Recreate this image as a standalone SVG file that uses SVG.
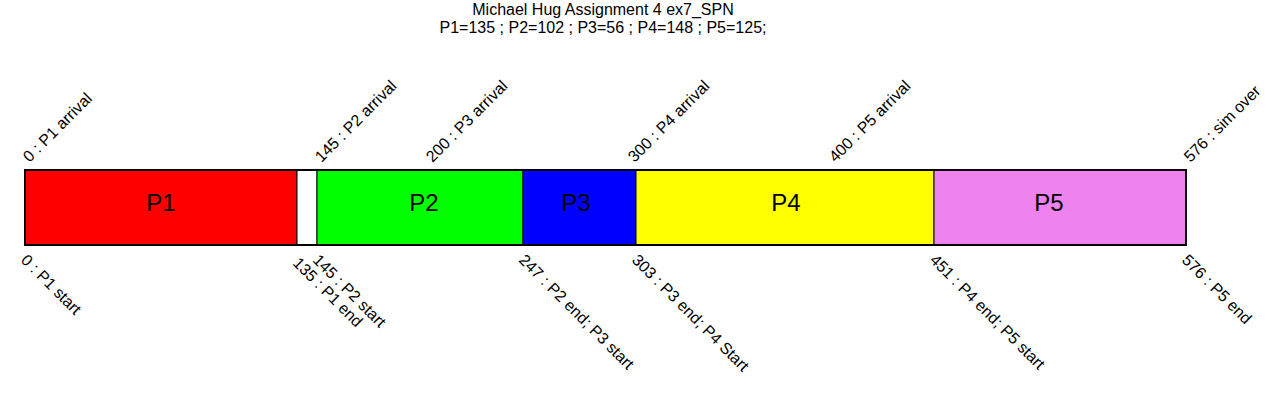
<svg xmlns="http://www.w3.org/2000/svg" width="1280" height="420" viewBox="0 0 1280 420">
<style>
text{font-family:"Liberation Sans",Arial,sans-serif;fill:#000}
.t{font-size:16px;text-anchor:middle}
.p{font-size:24px;text-anchor:middle}
.l{font-size:16px}
.seg{stroke:#000;stroke-width:1}
</style>
<rect width="1280" height="420" fill="#fff"/>
<g id="title">
<text class="t" x="603" y="15">Michael Hug Assignment 4 ex7_SPN</text>
<text class="t" x="603" y="33">P1=135 ; P2=102 ; P3=56 ; P4=148 ; P5=125;</text>
</g>
<g id="P1"><rect class="seg" x="25" y="170" width="272" height="75" fill="#ff0000"/><text class="p" x="161" y="211">P1</text></g>
<g id="idle"><rect class="seg" x="297" y="170" width="20" height="75" fill="#ffffff"/></g>
<g id="P2"><rect class="seg" x="317" y="170" width="206" height="75" fill="#00ff00"/><text class="p" x="424" y="211">P2</text></g>
<g id="P3"><rect class="seg" x="523" y="170" width="113" height="75" fill="#0000ff"/><text class="p" x="576" y="211">P3</text></g>
<g id="P4"><rect class="seg" x="636" y="170" width="298" height="75" fill="#ffff00"/><text class="p" x="786" y="211">P4</text></g>
<g id="P5"><rect class="seg" x="934" y="170" width="252" height="75" fill="#ee82ee"/><text class="p" x="1049" y="211">P5</text></g>
<g id="border"><rect x="25" y="170" width="1161" height="75" fill="none" stroke="#000" stroke-width="2"/></g>
<g id="arrivals">
<text class="l" transform="translate(29.5,163) rotate(-45)">0 : P1 arrival</text>
<text class="l" transform="translate(321.5,163) rotate(-45)">145 : P2 arrival</text>
<text class="l" transform="translate(432.5,163) rotate(-45)">200 : P3 arrival</text>
<text class="l" transform="translate(634.5,163) rotate(-45)">300 : P4 arrival</text>
<text class="l" transform="translate(835.5,163) rotate(-45)">400 : P5 arrival</text>
<text class="l" transform="translate(1190.5,163) rotate(-45)">576 : sim over</text>
</g>
<g id="events">
<text class="l" transform="translate(20,261) rotate(45)">0 : P1 start</text>
<text class="l" transform="translate(292,264) rotate(45)">135 : P1 end</text>
<text class="l" transform="translate(312,261) rotate(45)">145 : P2 start</text>
<text class="l" transform="translate(518,261) rotate(45)">247 : P2 end; P3 start</text>
<text class="l" transform="translate(631,261) rotate(45)">303 : P3 end; P4 Start</text>
<text class="l" transform="translate(929,261) rotate(45)">451 : P4 end; P5 start</text>
<text class="l" transform="translate(1181,261) rotate(45)">576 : P5 end</text>
</g>
</svg>
